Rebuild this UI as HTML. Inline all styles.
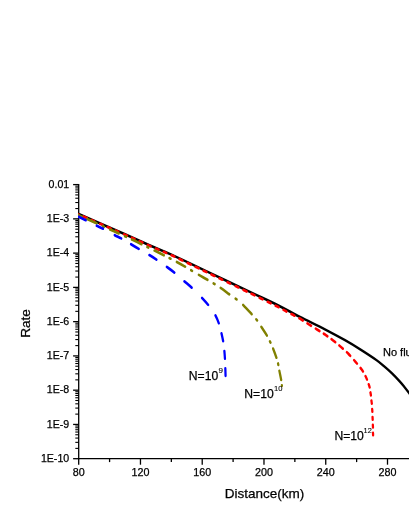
<!DOCTYPE html>
<html><head><meta charset="utf-8"><title>Rate vs Distance</title>
<style>
html,body{margin:0;padding:0;background:#fff;}
body{width:409px;height:529px;overflow:hidden;}
svg{display:block;font-family:"Liberation Sans",sans-serif;will-change:transform;transform:translateZ(0);}
</style></head><body>
<svg width="409" height="529" viewBox="0 0 409 529">
<defs><clipPath id="plotclip"><rect x="78.05" y="0" width="340" height="529"/></clipPath></defs>
<g>
<line x1="78.70" y1="183.95" x2="78.70" y2="459.35" stroke="#000" stroke-width="1.3"/>
<line x1="78.05" y1="458.70" x2="411.00" y2="458.70" stroke="#000" stroke-width="1.3"/>
<line x1="73.10" y1="184.60" x2="78.70" y2="184.60" stroke="#000" stroke-width="1.3"/>
<line x1="75.30" y1="208.55" x2="78.70" y2="208.55" stroke="#000" stroke-width="1.1"/>
<line x1="75.30" y1="202.52" x2="78.70" y2="202.52" stroke="#000" stroke-width="1.1"/>
<line x1="75.30" y1="198.23" x2="78.70" y2="198.23" stroke="#000" stroke-width="1.1"/>
<line x1="75.30" y1="194.91" x2="78.70" y2="194.91" stroke="#000" stroke-width="1.1"/>
<line x1="75.30" y1="192.20" x2="78.70" y2="192.20" stroke="#000" stroke-width="1.1"/>
<line x1="75.30" y1="189.91" x2="78.70" y2="189.91" stroke="#000" stroke-width="1.1"/>
<line x1="75.30" y1="187.92" x2="78.70" y2="187.92" stroke="#000" stroke-width="1.1"/>
<line x1="75.30" y1="186.17" x2="78.70" y2="186.17" stroke="#000" stroke-width="1.1"/>
<line x1="73.10" y1="218.86" x2="78.70" y2="218.86" stroke="#000" stroke-width="1.3"/>
<line x1="75.30" y1="242.81" x2="78.70" y2="242.81" stroke="#000" stroke-width="1.1"/>
<line x1="75.30" y1="236.78" x2="78.70" y2="236.78" stroke="#000" stroke-width="1.1"/>
<line x1="75.30" y1="232.50" x2="78.70" y2="232.50" stroke="#000" stroke-width="1.1"/>
<line x1="75.30" y1="229.18" x2="78.70" y2="229.18" stroke="#000" stroke-width="1.1"/>
<line x1="75.30" y1="226.46" x2="78.70" y2="226.46" stroke="#000" stroke-width="1.1"/>
<line x1="75.30" y1="224.17" x2="78.70" y2="224.17" stroke="#000" stroke-width="1.1"/>
<line x1="75.30" y1="222.18" x2="78.70" y2="222.18" stroke="#000" stroke-width="1.1"/>
<line x1="75.30" y1="220.43" x2="78.70" y2="220.43" stroke="#000" stroke-width="1.1"/>
<line x1="73.10" y1="253.12" x2="78.70" y2="253.12" stroke="#000" stroke-width="1.3"/>
<line x1="75.30" y1="277.07" x2="78.70" y2="277.07" stroke="#000" stroke-width="1.1"/>
<line x1="75.30" y1="271.04" x2="78.70" y2="271.04" stroke="#000" stroke-width="1.1"/>
<line x1="75.30" y1="266.76" x2="78.70" y2="266.76" stroke="#000" stroke-width="1.1"/>
<line x1="75.30" y1="263.44" x2="78.70" y2="263.44" stroke="#000" stroke-width="1.1"/>
<line x1="75.30" y1="260.73" x2="78.70" y2="260.73" stroke="#000" stroke-width="1.1"/>
<line x1="75.30" y1="258.43" x2="78.70" y2="258.43" stroke="#000" stroke-width="1.1"/>
<line x1="75.30" y1="256.45" x2="78.70" y2="256.45" stroke="#000" stroke-width="1.1"/>
<line x1="75.30" y1="254.69" x2="78.70" y2="254.69" stroke="#000" stroke-width="1.1"/>
<line x1="73.10" y1="287.39" x2="78.70" y2="287.39" stroke="#000" stroke-width="1.3"/>
<line x1="75.30" y1="311.34" x2="78.70" y2="311.34" stroke="#000" stroke-width="1.1"/>
<line x1="75.30" y1="305.30" x2="78.70" y2="305.30" stroke="#000" stroke-width="1.1"/>
<line x1="75.30" y1="301.02" x2="78.70" y2="301.02" stroke="#000" stroke-width="1.1"/>
<line x1="75.30" y1="297.70" x2="78.70" y2="297.70" stroke="#000" stroke-width="1.1"/>
<line x1="75.30" y1="294.99" x2="78.70" y2="294.99" stroke="#000" stroke-width="1.1"/>
<line x1="75.30" y1="292.69" x2="78.70" y2="292.69" stroke="#000" stroke-width="1.1"/>
<line x1="75.30" y1="290.71" x2="78.70" y2="290.71" stroke="#000" stroke-width="1.1"/>
<line x1="75.30" y1="288.96" x2="78.70" y2="288.96" stroke="#000" stroke-width="1.1"/>
<line x1="73.10" y1="321.65" x2="78.70" y2="321.65" stroke="#000" stroke-width="1.3"/>
<line x1="75.30" y1="345.60" x2="78.70" y2="345.60" stroke="#000" stroke-width="1.1"/>
<line x1="75.30" y1="339.57" x2="78.70" y2="339.57" stroke="#000" stroke-width="1.1"/>
<line x1="75.30" y1="335.28" x2="78.70" y2="335.28" stroke="#000" stroke-width="1.1"/>
<line x1="75.30" y1="331.96" x2="78.70" y2="331.96" stroke="#000" stroke-width="1.1"/>
<line x1="75.30" y1="329.25" x2="78.70" y2="329.25" stroke="#000" stroke-width="1.1"/>
<line x1="75.30" y1="326.96" x2="78.70" y2="326.96" stroke="#000" stroke-width="1.1"/>
<line x1="75.30" y1="324.97" x2="78.70" y2="324.97" stroke="#000" stroke-width="1.1"/>
<line x1="75.30" y1="323.22" x2="78.70" y2="323.22" stroke="#000" stroke-width="1.1"/>
<line x1="73.10" y1="355.91" x2="78.70" y2="355.91" stroke="#000" stroke-width="1.3"/>
<line x1="75.30" y1="379.86" x2="78.70" y2="379.86" stroke="#000" stroke-width="1.1"/>
<line x1="75.30" y1="373.83" x2="78.70" y2="373.83" stroke="#000" stroke-width="1.1"/>
<line x1="75.30" y1="369.55" x2="78.70" y2="369.55" stroke="#000" stroke-width="1.1"/>
<line x1="75.30" y1="366.23" x2="78.70" y2="366.23" stroke="#000" stroke-width="1.1"/>
<line x1="75.30" y1="363.51" x2="78.70" y2="363.51" stroke="#000" stroke-width="1.1"/>
<line x1="75.30" y1="361.22" x2="78.70" y2="361.22" stroke="#000" stroke-width="1.1"/>
<line x1="75.30" y1="359.23" x2="78.70" y2="359.23" stroke="#000" stroke-width="1.1"/>
<line x1="75.30" y1="357.48" x2="78.70" y2="357.48" stroke="#000" stroke-width="1.1"/>
<line x1="73.10" y1="390.18" x2="78.70" y2="390.18" stroke="#000" stroke-width="1.3"/>
<line x1="75.30" y1="414.12" x2="78.70" y2="414.12" stroke="#000" stroke-width="1.1"/>
<line x1="75.30" y1="408.09" x2="78.70" y2="408.09" stroke="#000" stroke-width="1.1"/>
<line x1="75.30" y1="403.81" x2="78.70" y2="403.81" stroke="#000" stroke-width="1.1"/>
<line x1="75.30" y1="400.49" x2="78.70" y2="400.49" stroke="#000" stroke-width="1.1"/>
<line x1="75.30" y1="397.78" x2="78.70" y2="397.78" stroke="#000" stroke-width="1.1"/>
<line x1="75.30" y1="395.48" x2="78.70" y2="395.48" stroke="#000" stroke-width="1.1"/>
<line x1="75.30" y1="393.50" x2="78.70" y2="393.50" stroke="#000" stroke-width="1.1"/>
<line x1="75.30" y1="391.74" x2="78.70" y2="391.74" stroke="#000" stroke-width="1.1"/>
<line x1="73.10" y1="424.44" x2="78.70" y2="424.44" stroke="#000" stroke-width="1.3"/>
<line x1="75.30" y1="448.39" x2="78.70" y2="448.39" stroke="#000" stroke-width="1.1"/>
<line x1="75.30" y1="442.35" x2="78.70" y2="442.35" stroke="#000" stroke-width="1.1"/>
<line x1="75.30" y1="438.07" x2="78.70" y2="438.07" stroke="#000" stroke-width="1.1"/>
<line x1="75.30" y1="434.75" x2="78.70" y2="434.75" stroke="#000" stroke-width="1.1"/>
<line x1="75.30" y1="432.04" x2="78.70" y2="432.04" stroke="#000" stroke-width="1.1"/>
<line x1="75.30" y1="429.74" x2="78.70" y2="429.74" stroke="#000" stroke-width="1.1"/>
<line x1="75.30" y1="427.76" x2="78.70" y2="427.76" stroke="#000" stroke-width="1.1"/>
<line x1="75.30" y1="426.01" x2="78.70" y2="426.01" stroke="#000" stroke-width="1.1"/>
<line x1="73.10" y1="458.70" x2="78.70" y2="458.70" stroke="#000" stroke-width="1.3"/>
<line x1="78.70" y1="458.70" x2="78.70" y2="464.70" stroke="#000" stroke-width="1.3"/>
<line x1="109.58" y1="458.70" x2="109.58" y2="462.10" stroke="#000" stroke-width="1.3"/>
<line x1="140.46" y1="458.70" x2="140.46" y2="464.70" stroke="#000" stroke-width="1.3"/>
<line x1="171.34" y1="458.70" x2="171.34" y2="462.10" stroke="#000" stroke-width="1.3"/>
<line x1="202.22" y1="458.70" x2="202.22" y2="464.70" stroke="#000" stroke-width="1.3"/>
<line x1="233.10" y1="458.70" x2="233.10" y2="462.10" stroke="#000" stroke-width="1.3"/>
<line x1="263.98" y1="458.70" x2="263.98" y2="464.70" stroke="#000" stroke-width="1.3"/>
<line x1="294.86" y1="458.70" x2="294.86" y2="462.10" stroke="#000" stroke-width="1.3"/>
<line x1="325.74" y1="458.70" x2="325.74" y2="464.70" stroke="#000" stroke-width="1.3"/>
<line x1="356.62" y1="458.70" x2="356.62" y2="462.10" stroke="#000" stroke-width="1.3"/>
<line x1="387.50" y1="458.70" x2="387.50" y2="464.70" stroke="#000" stroke-width="1.3"/>
<g clip-path="url(#plotclip)"><g transform="scale(0.8400,1)">
<path d="M93.69 214.00 C102.88 217.38 134.66 229.05 148.81 234.30 C162.96 239.55 169.25 242.07 178.57 245.50 C187.90 248.93 192.46 250.17 204.76 254.90 C217.06 259.63 236.51 267.57 252.38 273.90 C268.25 280.23 287.02 287.72 300.00 292.90 C312.98 298.08 320.71 301.00 330.24 305.00 C339.76 309.00 347.72 312.85 357.14 316.90 C366.57 320.95 377.86 325.42 386.79 329.30 C395.71 333.18 403.63 336.82 410.71 340.20 C417.80 343.58 423.08 346.30 429.29 349.60 C435.50 352.90 443.31 357.22 447.98 360.00 C452.64 362.78 454.17 364.08 457.26 366.30 C460.36 368.52 463.43 370.77 466.55 373.30 C469.66 375.83 473.45 379.20 475.95 381.50 C478.45 383.80 479.72 385.18 481.55 387.10 C483.37 389.02 485.42 391.30 486.90 393.00 C488.39 394.70 489.88 396.58 490.48 397.30" fill="none" stroke="#000" stroke-width="2.55"/>
<path d="M93.69 214.40 C102.88 217.78 134.66 229.43 148.81 234.70 C162.96 239.97 169.25 242.53 178.57 246.00 C187.90 249.47 194.84 251.67 204.76 255.50 C214.68 259.33 227.58 264.75 238.10 269.00 C248.61 273.25 257.54 276.82 267.86 281.00 C278.17 285.18 289.60 289.83 300.00 294.10 C310.40 298.37 323.59 303.78 330.24 306.60 C336.88 309.42 336.71 309.58 339.88 311.00 C343.06 312.42 346.15 313.68 349.29 315.10 C352.42 316.52 355.54 317.92 358.69 319.50 C361.85 321.08 365.02 322.90 368.21 324.60 C371.41 326.30 374.64 327.98 377.86 329.70 C381.07 331.42 384.35 333.08 387.50 334.90 C390.65 336.72 393.71 338.58 396.79 340.60 C399.86 342.62 402.94 344.78 405.95 347.00 C408.97 349.22 412.02 351.45 414.88 353.90 C417.74 356.35 420.50 359.12 423.10 361.70 C425.69 364.28 428.57 367.17 430.48 369.40 C432.38 371.63 433.41 373.33 434.52 375.10 C435.63 376.87 436.47 378.62 437.14 380.00 C437.82 381.38 438.06 382.07 438.57 383.40 C439.09 384.73 439.86 386.65 440.24 388.00 C440.62 389.35 440.60 390.17 440.83 391.50 C441.07 392.83 441.47 394.65 441.67 396.00 C441.87 397.35 441.85 398.23 442.02 399.60 C442.20 400.97 442.58 402.78 442.74 404.20 C442.90 405.62 442.88 406.77 442.98 408.10 C443.08 409.43 443.25 410.88 443.33 412.20 C443.41 413.52 443.39 414.67 443.45 416.00 C443.51 417.33 443.63 418.90 443.69 420.20 C443.75 421.50 443.75 422.48 443.81 423.80 C443.87 425.12 444.01 426.75 444.05 428.10 C444.09 429.45 444.03 430.63 444.05 431.90 C444.07 433.17 444.15 435.07 444.17 435.70" fill="none" stroke="#ff0000" stroke-width="2.70" stroke-linecap="round" stroke-dasharray="0.05 6.09 4.39 5.69 3.68 7.37 2.94 6.36 4.02 6.11 3.47 7.21 3.61 6.32 3.52 6.31 3.91 6.73 3.61 6.38 3.63 6.54 3.33 6.63 3.72 6.36 3.78 6.68 3.92 6.01 4.23 6.20 3.71 6.45 4.04 6.42 3.66 6.70 3.44 6.94 3.58 6.40 4.13 6.28 4.03 6.50 3.75 6.44 3.86 6.14 3.95 6.70 3.84 6.47 3.95 6.35 4.82 6.03 5.01 6.25 5.05 5.72 5.03 5.68 5.47 5.81 5.24 6.03 5.29 6.26 5.02 5.92 4.62 5.45 3.86 5.39 3.19 5.25 2.88 5.32 2.96 5.61 2.42 5.50 2.51 5.30 2.61 5.50 2.10 1000.00"/>
<path d="M93.69 215.20 C98.59 217.07 113.79 222.83 123.10 226.40 C132.40 229.97 140.28 232.95 149.52 236.60 C158.77 240.25 169.76 244.67 178.57 248.30 C187.38 251.93 195.44 255.35 202.38 258.40 C209.33 261.45 214.68 263.93 220.24 266.60 C225.79 269.27 231.09 272.12 235.71 274.40 C240.34 276.68 243.63 278.13 247.98 280.30 C252.32 282.47 257.50 285.00 261.79 287.40 C266.07 289.80 270.46 292.75 273.69 294.70 C276.92 296.65 278.69 297.50 281.19 299.10 C283.69 300.70 285.52 301.70 288.69 304.30 C291.87 306.90 297.42 312.10 300.24 314.70 C303.06 317.30 303.87 317.98 305.60 319.90 C307.32 321.82 308.49 323.48 310.60 326.20 C312.70 328.92 316.37 333.57 318.21 336.20 C320.06 338.83 320.58 340.07 321.67 342.00 C322.76 343.93 323.47 345.07 324.76 347.80 C326.05 350.53 328.33 355.67 329.40 358.40 C330.48 361.13 330.69 362.27 331.19 364.20 C331.69 366.13 331.77 367.27 332.38 370.00 C333.00 372.73 334.33 377.83 334.88 380.60 C335.44 383.37 335.58 385.60 335.71 386.60" fill="none" stroke="#808000" stroke-width="2.70" stroke-linecap="round" stroke-dasharray="4.25 6.66 11.77 8.08 1.40 7.53 11.41 7.99 1.40 7.52 11.95 7.52 1.40 7.92 12.04 7.43 1.40 8.06 11.12 7.82 1.40 8.88 11.61 8.04 1.40 8.09 11.97 8.85 1.40 9.79 13.33 7.77 1.40 8.35 10.57 7.05 1.40 6.88 9.57 6.37 1.40 6.22 9.03 5.54 0.37 1000.00"/>
<path d="M93.69 216.80 C95.24 217.43 99.58 219.18 102.98 220.60 C106.37 222.02 110.60 223.88 114.05 225.30 C117.50 226.72 120.10 227.53 123.69 229.10 C127.28 230.67 132.00 233.08 135.60 234.70 C139.19 236.32 141.98 237.28 145.24 238.80 C148.49 240.32 151.65 242.05 155.12 243.80 C158.59 245.55 162.44 247.50 166.07 249.30 C169.70 251.10 173.39 252.80 176.90 254.60 C180.42 256.40 183.67 258.13 187.14 260.10 C190.62 262.07 194.17 264.22 197.74 266.40 C201.31 268.58 205.10 270.83 208.57 273.20 C212.04 275.57 215.14 278.07 218.57 280.60 C222.00 283.13 225.63 285.62 229.17 288.40 C232.70 291.18 236.55 294.43 239.76 297.30 C242.98 300.17 245.75 302.72 248.45 305.60 C251.15 308.48 253.89 311.53 255.95 314.60 C258.02 317.67 259.58 321.02 260.83 324.00 C262.08 326.98 262.62 329.50 263.45 332.50 C264.29 335.50 265.24 339.07 265.83 342.00 C266.43 344.93 266.69 347.17 267.02 350.10 C267.36 353.03 267.66 356.70 267.86 359.60 C268.06 362.50 268.10 364.67 268.21 367.50 C268.33 370.33 268.51 375.08 268.57 376.60" fill="none" stroke="#0000ff" stroke-width="2.70" stroke-linecap="round" stroke-dasharray="9.03 14.21 8.18 15.16 8.48 13.07 10.26 14.06 9.62 14.33 10.58 14.87 10.72 16.06 10.02 13.73 8.61 10.75 7.95 10.19 7.54 9.91 7.11 1000.00"/>
</g></g>
</g>
<g fill="#000" stroke="#000" stroke-width="0.25" style="opacity:0.999">
<text x="69.2" y="187.90" text-anchor="end" font-size="10.6">0.01</text>
<text x="69.2" y="222.16" text-anchor="end" font-size="10.6">1E-3</text>
<text x="69.2" y="256.43" text-anchor="end" font-size="10.6">1E-4</text>
<text x="69.2" y="290.69" text-anchor="end" font-size="10.6">1E-5</text>
<text x="69.2" y="324.95" text-anchor="end" font-size="10.6">1E-6</text>
<text x="69.2" y="359.21" text-anchor="end" font-size="10.6">1E-7</text>
<text x="69.2" y="393.48" text-anchor="end" font-size="10.6">1E-8</text>
<text x="69.2" y="427.74" text-anchor="end" font-size="10.6">1E-9</text>
<text x="69.2" y="462.00" text-anchor="end" font-size="10.6">1E-10</text>
<text x="78.70" y="476.4" text-anchor="middle" font-size="10.75">80</text>
<text x="140.46" y="476.4" text-anchor="middle" font-size="10.75">120</text>
<text x="202.22" y="476.4" text-anchor="middle" font-size="10.75">160</text>
<text x="263.98" y="476.4" text-anchor="middle" font-size="10.75">200</text>
<text x="325.74" y="476.4" text-anchor="middle" font-size="10.75">240</text>
<text x="387.50" y="476.4" text-anchor="middle" font-size="10.75">280</text>
<text x="264.5" y="498.2" text-anchor="middle" font-size="13.5">Distance(km)</text>
<text transform="translate(30.4,323.5) rotate(-90)" text-anchor="middle" font-size="13.6">Rate</text>
<text x="383" y="355.8" font-size="11">No fluctuation</text>
<text x="188.80" y="379.90" font-size="12.15">N=10<tspan stroke-width="0.1" font-size="8.0" dx="0.2" dy="-6.9">9</tspan></text>
<text x="244.30" y="397.90" font-size="12.15">N=10<tspan stroke-width="0.1" font-size="7.6" dx="0.4" dy="-7.0">10</tspan></text>
<text x="334.40" y="440.30" font-size="12.15">N=10<tspan stroke-width="0.1" font-size="7.4" dx="-0.2" dy="-7.0">12</tspan></text>
</g>
</svg>
</body></html>
